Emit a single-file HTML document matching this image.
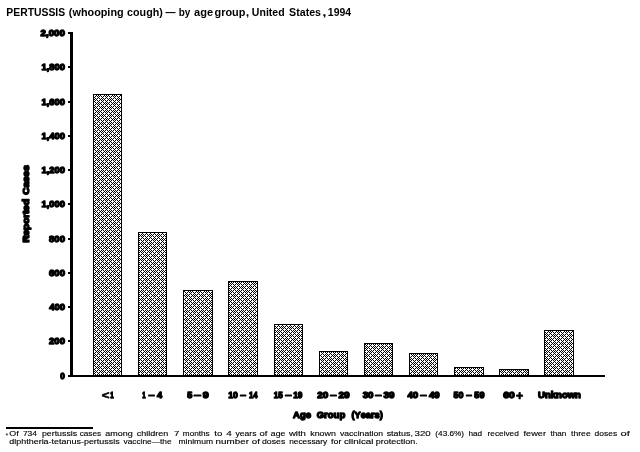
<!DOCTYPE html>
<html lang="en">
<head>
<meta charset="utf-8">
<title>PERTUSSIS (whooping cough) — by age group, United States, 1994</title>
<style>
html,body{margin:0;padding:0;background:#fff;}
body{width:640px;height:452px;overflow:hidden;}
svg{display:block;}
text{font-family:"Liberation Sans",Arial,Helvetica,sans-serif;fill:#000;font-kerning:none;}
.b{font-weight:bold;font-size:9px;stroke:#000;stroke-width:1.30px;stroke-linejoin:round;}
.v{font-weight:bold;font-size:8.6px;stroke:#000;stroke-width:1.4px;stroke-linejoin:round;}
.t{font-size:11px;font-weight:bold;}
.f{font-size:7.5px;stroke:#000;stroke-width:0.12px;}
</style>
</head>
<body>
<svg width="640" height="452" viewBox="0 0 640 452">
<defs>
<pattern id="h" x="0" y="0" width="8" height="8" patternUnits="userSpaceOnUse">
<rect width="8" height="8" fill="#fff"/>
<path fill="#000" shape-rendering="crispEdges" d="M1 0h1v1h-1zM3 0h1v1h-1zM5 0h1v1h-1zM7 0h1v1h-1zM2 1h1v1h-1zM6 1h1v1h-1zM1 2h1v1h-1zM3 2h1v1h-1zM5 2h1v1h-1zM7 2h1v1h-1zM0 3h1v1h-1zM4 3h1v1h-1zM6 3h1v1h-1zM1 4h1v1h-1zM3 4h1v1h-1zM5 4h1v1h-1zM7 4h1v1h-1zM2 5h1v1h-1zM6 5h1v1h-1zM1 6h1v1h-1zM3 6h1v1h-1zM5 6h1v1h-1zM7 6h1v1h-1zM0 7h1v1h-1zM2 7h1v1h-1zM4 7h1v1h-1z"/>
</pattern>
</defs>
<rect width="640" height="452" fill="#fff"/>
<text class="t" y="15.8"><tspan x="6.31" textLength="58.85" lengthAdjust="spacingAndGlyphs">PERTUSSIS</tspan> <tspan x="68.86" textLength="54.76" lengthAdjust="spacingAndGlyphs">(whooping</tspan> <tspan x="127.08" textLength="35.75" lengthAdjust="spacingAndGlyphs">cough)</tspan> <tspan x="165.40" textLength="10.00" lengthAdjust="spacingAndGlyphs">—</tspan> <tspan x="178.74" textLength="11.61" lengthAdjust="spacingAndGlyphs">by</tspan> <tspan x="194.08" textLength="19.10" lengthAdjust="spacingAndGlyphs">age</tspan> <tspan x="214.55" textLength="30.89" lengthAdjust="spacingAndGlyphs">group</tspan><tspan x="245.75" textLength="3.50" lengthAdjust="spacingAndGlyphs">,</tspan> <tspan x="251.87" textLength="32.73" lengthAdjust="spacingAndGlyphs">United</tspan> <tspan x="289.09" textLength="31.94" lengthAdjust="spacingAndGlyphs">States</tspan><tspan x="322.36" textLength="4.27" lengthAdjust="spacingAndGlyphs">,</tspan> <tspan x="327.84" textLength="23.21" lengthAdjust="spacingAndGlyphs">1994</tspan></text>
<g shape-rendering="crispEdges" fill="#000">
<rect x="70" y="32" width="3" height="345"/>
<rect x="68" y="375" width="537" height="2"/>
<rect x="68" y="32" width="3" height="2"/>
<rect x="68" y="66" width="3" height="2"/>
<rect x="68" y="101" width="3" height="2"/>
<rect x="68" y="135" width="3" height="2"/>
<rect x="68" y="169" width="3" height="2"/>
<rect x="68" y="203" width="3" height="2"/>
<rect x="68" y="238" width="3" height="2"/>
<rect x="68" y="272" width="3" height="2"/>
<rect x="68" y="306" width="3" height="2"/>
<rect x="68" y="340" width="3" height="2"/>
</g>
<g class="b">
<text y="36.2"><tspan x="40.56" textLength="24.39" lengthAdjust="spacingAndGlyphs">2,000</tspan></text>
<text y="70.2"><tspan x="41.56" textLength="23.37" lengthAdjust="spacingAndGlyphs">1,800</tspan></text>
<text y="105.2"><tspan x="41.56" textLength="23.37" lengthAdjust="spacingAndGlyphs">1,600</tspan></text>
<text y="139.2"><tspan x="41.56" textLength="23.37" lengthAdjust="spacingAndGlyphs">1,400</tspan></text>
<text y="173.2"><tspan x="41.56" textLength="23.37" lengthAdjust="spacingAndGlyphs">1,200</tspan></text>
<text y="207.2"><tspan x="41.56" textLength="23.37" lengthAdjust="spacingAndGlyphs">1,000</tspan></text>
<text y="242.2"><tspan x="49.10" textLength="15.84" lengthAdjust="spacingAndGlyphs">800</tspan></text>
<text y="276.2"><tspan x="49.05" textLength="15.89" lengthAdjust="spacingAndGlyphs">600</tspan></text>
<text y="310.2"><tspan x="49.26" textLength="15.68" lengthAdjust="spacingAndGlyphs">400</tspan></text>
<text y="344.2"><tspan x="49.07" textLength="15.87" lengthAdjust="spacingAndGlyphs">200</tspan></text>
<text y="379.2"><tspan x="60.33" textLength="4.56" lengthAdjust="spacingAndGlyphs">0</tspan></text>
</g>
<g shape-rendering="crispEdges" fill="url(#h)" stroke="#000" stroke-width="1">
<rect x="93.5" y="94.5" width="28" height="281"/>
<rect x="138.5" y="232.5" width="28" height="143"/>
<rect x="183.5" y="290.5" width="29" height="85"/>
<rect x="228.5" y="281.5" width="29" height="94"/>
<rect x="274.5" y="324.5" width="28" height="51"/>
<rect x="319.5" y="351.5" width="28" height="24"/>
<rect x="364.5" y="343.5" width="28" height="32"/>
<rect x="409.5" y="353.5" width="28" height="22"/>
<rect x="454.5" y="367.5" width="29" height="8"/>
<rect x="499.5" y="369.5" width="29" height="6"/>
<rect x="544.5" y="330.5" width="29" height="45"/>
</g>
<g class="b">
<text y="398.35"><tspan x="101.65" textLength="7.69" lengthAdjust="spacingAndGlyphs" style="font-size:10px;stroke-width:0.6px" dy="0.85">&lt;</tspan><tspan x="110.26" textLength="3.47" lengthAdjust="spacingAndGlyphs" dy="-0.85">1</tspan></text>
<text y="398.35"><tspan x="142.17" textLength="3.35" lengthAdjust="spacingAndGlyphs">1</tspan><tspan x="148.42" textLength="6.01" lengthAdjust="spacingAndGlyphs">–</tspan><tspan x="157.01" textLength="5.19" lengthAdjust="spacingAndGlyphs">4</tspan></text>
<text y="398.35"><tspan x="187.27" textLength="5.09" lengthAdjust="spacingAndGlyphs">5</tspan><tspan x="194.02" textLength="6.96" lengthAdjust="spacingAndGlyphs">–</tspan><tspan x="202.78" textLength="5.97" lengthAdjust="spacingAndGlyphs">9</tspan></text>
<text y="398.35"><tspan x="228.21" textLength="9.60" lengthAdjust="spacingAndGlyphs">10</tspan><tspan x="240.34" textLength="5.73" lengthAdjust="spacingAndGlyphs">–</tspan><tspan x="248.91" textLength="8.58" lengthAdjust="spacingAndGlyphs">14</tspan></text>
<text y="398.35"><tspan x="273.64" textLength="9.04" lengthAdjust="spacingAndGlyphs">15</tspan><tspan x="285.31" textLength="6.29" lengthAdjust="spacingAndGlyphs">–</tspan><tspan x="293.23" textLength="9.23" lengthAdjust="spacingAndGlyphs">19</tspan></text>
<text y="398.35"><tspan x="317.21" textLength="11.05" lengthAdjust="spacingAndGlyphs">20</tspan><tspan x="330.31" textLength="6.29" lengthAdjust="spacingAndGlyphs">–</tspan><tspan x="338.40" textLength="11.22" lengthAdjust="spacingAndGlyphs">29</tspan></text>
<text y="398.35"><tspan x="362.68" textLength="10.82" lengthAdjust="spacingAndGlyphs">30</tspan><tspan x="375.31" textLength="6.29" lengthAdjust="spacingAndGlyphs">–</tspan><tspan x="383.52" textLength="10.99" lengthAdjust="spacingAndGlyphs">39</tspan></text>
<text y="398.35"><tspan x="407.40" textLength="10.85" lengthAdjust="spacingAndGlyphs">40</tspan><tspan x="420.31" textLength="6.29" lengthAdjust="spacingAndGlyphs">–</tspan><tspan x="429.00" textLength="10.70" lengthAdjust="spacingAndGlyphs">49</tspan></text>
<text y="398.35"><tspan x="453.47" textLength="9.99" lengthAdjust="spacingAndGlyphs">50</tspan><tspan x="466.35" textLength="5.56" lengthAdjust="spacingAndGlyphs">–</tspan><tspan x="474.37" textLength="10.12" lengthAdjust="spacingAndGlyphs">59</tspan></text>
<text y="398.35"><tspan x="503.27" textLength="11.50" lengthAdjust="spacingAndGlyphs">60</tspan><tspan x="515.93" textLength="7.22" lengthAdjust="spacingAndGlyphs" style="font-size:12px;stroke-width:0.7px" dy="1.15">+</tspan></text>
<text y="398.35"><tspan x="538.08" textLength="42.86" lengthAdjust="spacingAndGlyphs">Unknown</tspan></text>
<text y="418.15"><tspan x="293.11" textLength="17.96" lengthAdjust="spacingAndGlyphs">Age</tspan> <tspan x="316.66" textLength="28.58" lengthAdjust="spacingAndGlyphs">Group</tspan> <tspan x="351.49" textLength="31.32" lengthAdjust="spacingAndGlyphs">(Years)</tspan></text>
</g>
<text class="v" transform="translate(29.05,242.6) rotate(-90)" y="0"><tspan x="0.04" textLength="43.52" lengthAdjust="spacingAndGlyphs">Reported</tspan> <tspan x="47.89" textLength="29.42" lengthAdjust="spacingAndGlyphs">Cases</tspan></text>
<rect x="6" y="427" width="87" height="2" fill="#000" shape-rendering="crispEdges"/>
<g class="f">
<text x="5.5" y="437.7" font-size="7" stroke="none">*</text>
<text y="435.9"><tspan x="9.28" textLength="9.46" lengthAdjust="spacingAndGlyphs">Of</tspan> <tspan x="22.97" textLength="13.97" lengthAdjust="spacingAndGlyphs">734</tspan> <tspan x="41.93" textLength="35.29" lengthAdjust="spacingAndGlyphs">pertussis</tspan> <tspan x="79.65" textLength="21.55" lengthAdjust="spacingAndGlyphs">cases</tspan> <tspan x="105.22" textLength="27.56" lengthAdjust="spacingAndGlyphs">among</tspan> <tspan x="136.82" textLength="31.57" lengthAdjust="spacingAndGlyphs">children</tspan> <tspan x="173.91" textLength="5.32" lengthAdjust="spacingAndGlyphs">7</tspan> <tspan x="182.86" textLength="26.84" lengthAdjust="spacingAndGlyphs">months</tspan> <tspan x="214.25" textLength="8.05" lengthAdjust="spacingAndGlyphs">to</tspan> <tspan x="226.37" textLength="5.52" lengthAdjust="spacingAndGlyphs">4</tspan> <tspan x="235.48" textLength="21.08" lengthAdjust="spacingAndGlyphs">years</tspan> <tspan x="259.60" textLength="7.88" lengthAdjust="spacingAndGlyphs">of</tspan> <tspan x="270.88" textLength="14.51" lengthAdjust="spacingAndGlyphs">age</tspan> <tspan x="288.91" textLength="17.01" lengthAdjust="spacingAndGlyphs">with</tspan> <tspan x="310.20" textLength="25.68" lengthAdjust="spacingAndGlyphs">known</tspan> <tspan x="339.97" textLength="43.09" lengthAdjust="spacingAndGlyphs">vaccination</tspan> <tspan x="386.65" textLength="26.35" lengthAdjust="spacingAndGlyphs">status,</tspan> <tspan x="414.63" textLength="16.04" lengthAdjust="spacingAndGlyphs">320</tspan> <tspan x="435.39" textLength="28.72" lengthAdjust="spacingAndGlyphs">(43.6%)</tspan> <tspan x="468.43" textLength="13.70" lengthAdjust="spacingAndGlyphs">had</tspan> <tspan x="487.55" textLength="31.28" lengthAdjust="spacingAndGlyphs">received</tspan> <tspan x="523.47" textLength="22.58" lengthAdjust="spacingAndGlyphs">fewer</tspan> <tspan x="550.48" textLength="15.85" lengthAdjust="spacingAndGlyphs">than</tspan> <tspan x="571.12" textLength="19.56" lengthAdjust="spacingAndGlyphs">three</tspan> <tspan x="594.64" textLength="22.56" lengthAdjust="spacingAndGlyphs">doses</tspan> <tspan x="620.43" textLength="9.35" lengthAdjust="spacingAndGlyphs">of</tspan></text>
<text y="444"><tspan x="9.32" textLength="110.40" lengthAdjust="spacingAndGlyphs">diphtheria-tetanus-pertussis</tspan> <tspan x="123.57" textLength="48.05" lengthAdjust="spacingAndGlyphs">vaccine—the</tspan> <tspan x="178.43" textLength="34.63" lengthAdjust="spacingAndGlyphs">minimum</tspan> <tspan x="215.60" textLength="33.32" lengthAdjust="spacingAndGlyphs">number</tspan> <tspan x="251.79" textLength="8.20" lengthAdjust="spacingAndGlyphs">of</tspan> <tspan x="261.93" textLength="23.38" lengthAdjust="spacingAndGlyphs">doses</tspan> <tspan x="289.15" textLength="38.07" lengthAdjust="spacingAndGlyphs">necessary</tspan> <tspan x="330.97" textLength="10.42" lengthAdjust="spacingAndGlyphs">for</tspan> <tspan x="343.98" textLength="29.47" lengthAdjust="spacingAndGlyphs">clinical</tspan> <tspan x="375.67" textLength="42.05" lengthAdjust="spacingAndGlyphs">protection.</tspan></text>
</g>
</svg>
</body>
</html>
